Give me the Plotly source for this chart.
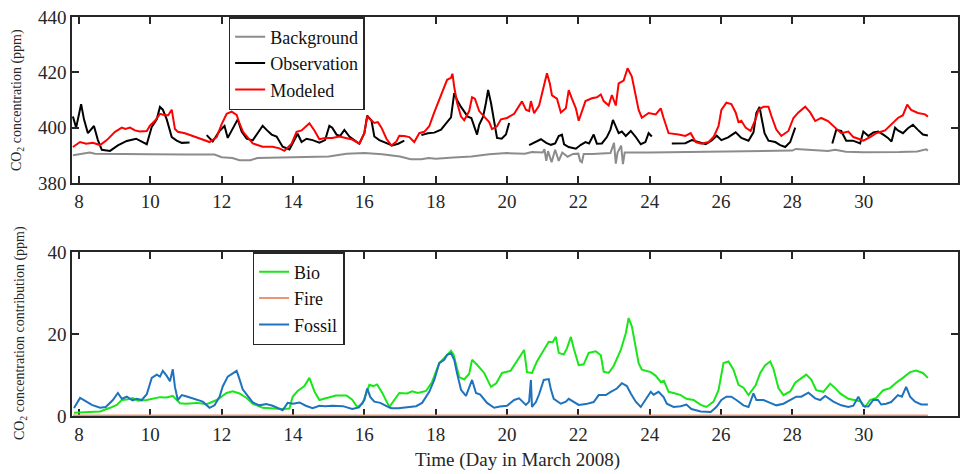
import plotly.graph_objects as go

# ---------------- data (day in March 2008, ppm) ----------------
bg_t = [7.83, 8.0, 8.3, 8.45, 9.0, 10.0, 11.0, 11.8, 12.0, 12.3, 12.5, 12.8, 13.0, 14.0, 15.0, 15.5,
        16.0, 16.5, 17.0, 17.3, 17.6, 17.8, 18.0, 18.5, 19.0, 19.5, 20.0, 20.5, 20.7, 21.0, 21.05,
        21.1, 21.15, 21.25, 21.35, 21.45, 21.55, 21.7, 21.85, 22.0, 22.05, 22.1, 22.15, 22.4, 22.9,
        23.0, 23.05, 23.1, 23.2, 23.25, 23.3, 24.0, 25.0, 26.0, 27.0, 28.0, 28.1, 28.5, 29.0, 29.2,
        29.5, 30.0, 30.5, 31.0, 31.5, 31.75, 31.8]
bg_v = [390.0, 390.3, 391.0, 390.6, 390.6, 390.4, 390.3, 390.3, 389.3, 389.0, 388.2, 388.2, 389.0,
        389.4, 389.6, 390.6, 390.8, 390.4, 389.6, 388.6, 388.6, 389.0, 388.8, 389.2, 389.6, 390.4,
        390.8, 390.6, 391.2, 391.0, 392.2, 388.0, 391.5, 387.5, 392.0, 388.0, 391.0, 389.5, 390.5,
        390.6, 388.0, 387.5, 390.5, 390.5, 390.8, 394.5, 387.0, 391.0, 393.5, 386.8, 391.0, 391.0,
        391.2, 391.4, 391.6, 391.7, 392.3, 392.0, 391.6, 392.0, 391.3, 391.1, 391.1, 391.2, 391.4,
        392.2, 391.7]

obs_t = [7.83, 7.92, 8.06, 8.14, 8.25, 8.42, 8.53, 8.64, 8.87, 9.09, 9.34, 9.6, 9.9, 10.04, 10.18,
         10.27, 10.35, 10.46, 10.6, 10.74, 10.88, 11.1, None,
         11.58, 11.75, 11.94, 12.08, 12.17, 12.31, 12.45, 12.56, 12.7, 12.87, 13.06, 13.15, 13.26,
         13.4, 13.54, 13.71, 13.9, 14.04, 14.13, 14.24, 14.38, 14.55, 14.74, 14.9, 15.02, 15.1,
         15.22, 15.32, 15.44, 15.58, 15.72, 15.86, 16.0, 16.08, 16.2, 16.28, 16.42, 16.62, 16.78,
         16.95, 17.12, None,
         17.6, 17.78, 17.96, 18.15, 18.32, 18.43, 18.52, 18.6, 18.71, 18.8, 18.9, 19.0, 19.08, 19.16,
         19.22, 19.33, 19.41, 19.47, 19.55, 19.64, 19.72, 19.85, 19.97, 20.06, None,
         20.62, 20.81, 20.95, 21.1, 21.23, 21.35, 21.45, 21.54, 21.6, 21.73, 21.93, 22.07, 22.2,
         22.3, 22.43, 22.52, 22.66, 22.8, 22.9, 22.97, 23.05, 23.13, 23.22, 23.33, 23.47, 23.6,
         23.75, 23.88, 23.97, 24.06, None,
         24.62, 24.8, 25.0, 25.18, 25.31, 25.57, 25.73, 25.88, 26.01, 26.2, 26.41, 26.57, 26.77,
         26.91, 26.99, 27.08, 27.14, 27.22, 27.33, 27.52, 27.66, 27.8, 27.94, 28.03, 28.08, None,
         29.12, 29.23, 29.37, 29.51, 29.7, 29.9, 29.99, 30.13, 30.27, 30.41, 30.55, 30.68, 30.78,
         30.88, 30.96, 31.1, 31.24, 31.38, 31.52, 31.66, 31.8]
obs_v = [404.0, 400.0, 408.5, 403.0, 398.0, 400.6, 395.5, 392.0, 391.6, 393.6, 395.2, 396.0, 394.0,
         400.3, 403.0, 407.5, 406.5, 403.0, 396.6, 395.3, 394.5, 394.6, None,
         397.3, 395.0, 398.8, 400.6, 396.3, 399.8, 403.0, 398.6, 396.0, 395.4, 398.8, 400.7, 399.2,
         397.5, 396.8, 393.1, 392.1, 395.3, 397.8, 394.8, 396.0, 395.5, 394.6, 395.5, 400.7, 400.0,
         397.5, 397.0, 399.2, 396.8, 395.5, 394.2, 398.0, 404.3, 402.6, 396.8, 395.5, 394.6, 393.6,
         394.2, 395.3, None,
         397.3, 398.0, 398.2, 399.3, 402.0, 403.7, 412.5, 410.0, 407.5, 405.7, 404.0, 403.5, 400.7,
         397.5, 401.0, 404.0, 409.0, 413.6, 409.0, 402.0, 396.3, 396.0, 397.5, 401.7, None,
         393.7, 394.8, 395.8, 394.5, 393.8, 394.3, 397.0, 397.5, 394.0, 393.0, 392.4, 393.8, 394.8,
         394.3, 397.5, 394.2, 394.3, 396.6, 399.3, 402.8, 400.5, 398.0, 398.6, 397.0, 398.8, 396.8,
         394.0, 394.8, 398.0, 396.8, None,
         394.3, 394.3, 394.4, 395.5, 395.0, 394.0, 395.3, 397.1, 395.5, 396.5, 398.3, 396.3, 395.3,
         398.3, 405.3, 407.5, 403.3, 398.0, 395.3, 394.8, 393.7, 393.0, 394.8, 398.3, 400.0, None,
         394.3, 399.2, 398.8, 395.3, 395.3, 394.3, 398.6, 397.0, 398.3, 398.6, 397.5, 396.3, 395.0,
         400.0, 399.0, 398.0, 399.8, 401.0, 399.2, 397.5, 397.2]

mod_t = [7.83, 8.03, 8.2, 8.39, 8.59, 8.78, 9.01, 9.2, 9.3, 9.43, 9.57, 9.7, 9.9, 9.99, 10.13, 10.27,
         10.41, 10.5, 10.6, 10.69, 10.77, 10.97, 11.19, 11.47, 11.66, 11.86, 12.0, 12.14, 12.28,
         12.42, 12.5, 12.6, 12.73, 12.87, 13.15, 13.43, 13.62, 13.76, 13.96, 14.1, 14.24, 14.38,
         14.46, 14.6, 14.74, 14.9, 15.1, 15.3, 15.5, 15.66, 15.86, 16.0, 16.08, 16.18, 16.28, 16.38,
         16.48, 16.62, 16.76, 16.9, 16.98, 17.12, 17.26, 17.4, 17.54, 17.68, 17.82, 17.96, 18.1,
         18.24, 18.32, 18.43, 18.47, 18.52, 18.6, 18.71, 18.8, 18.94, 19.02, 19.1, 19.22, 19.36,
         19.5, 19.58, 19.72, 19.83, 20.0, 20.2, 20.42, 20.53, 20.62, 20.67, 20.76, 20.9, 21.03,
         21.12, 21.2, 21.26, 21.4, 21.51, 21.65, 21.73, 21.82, 21.93, 22.01, 22.1, 22.2, 22.38,
         22.52, 22.63, 22.71, 22.85, 22.94, 23.05, 23.13, 23.27, 23.38, 23.5, 23.6, 23.69, 23.78,
         23.97, 24.17, 24.31, 24.39, 24.53, 24.81, 25.0, 25.15, 25.29, 25.45, 25.65, 25.79, 25.93,
         26.01, 26.15, 26.29, 26.41, 26.49, 26.57, 26.69, 26.83, 26.97, 27.05, 27.19, 27.33, 27.41,
         27.55, 27.69, 27.89, 28.03, 28.17, 28.36, 28.5, 28.64, 28.81, 29.0, 29.2, 29.37, 29.57,
         29.71, 29.85, 29.99, 30.18, 30.35, 30.6, 30.77, 30.96, 31.1, 31.22, 31.33, 31.52, 31.72,
         31.8]
mod_v = [393.0, 394.8, 394.2, 394.5, 393.7, 395.5, 398.5, 400.0, 399.5, 400.0, 399.0, 398.6, 398.8,
         400.7, 402.5, 405.0, 404.5, 404.5, 406.5, 399.5, 398.5, 398.0, 397.0, 395.8, 394.8, 396.6,
         401.3, 405.0, 405.8, 404.6, 401.5, 398.5, 396.6, 394.3, 393.1, 393.1, 392.5, 391.6, 394.2,
         398.5, 399.0, 400.7, 401.6, 399.0, 395.8, 396.3, 396.3, 396.8, 396.3, 395.7, 394.2, 398.0,
         404.0, 403.0, 401.7, 402.0, 400.0, 396.0, 393.5, 395.0, 397.1, 397.0, 396.6, 394.8, 398.0,
         398.5, 400.5, 405.5, 410.2, 414.3, 417.3, 418.0, 419.5, 414.7, 409.0, 404.0, 402.7, 406.0,
         411.0, 410.5, 406.0, 404.0, 402.0, 399.5, 400.5, 403.0, 403.5, 405.0, 409.5, 406.5, 406.0,
         409.6, 405.2, 408.0, 414.3, 419.7, 416.0, 411.7, 410.5, 405.5, 407.0, 413.6, 410.5, 407.0,
         402.5, 406.0, 409.6, 410.6, 411.0, 412.0, 409.6, 408.0, 411.8, 408.0, 416.0, 417.0, 421.5,
         418.5, 412.6, 406.4, 403.6, 405.3, 404.8, 407.0, 403.5, 398.0, 397.5, 397.0, 398.0, 394.8,
         394.2, 394.8, 396.6, 400.5, 406.4, 409.0, 408.5, 405.5, 402.0, 402.5, 400.0, 398.8, 403.1,
         406.4, 407.6, 407.6, 404.3, 399.3, 397.0, 398.8, 403.5, 405.5, 407.6, 405.5, 402.4, 403.5,
         402.4, 400.0, 398.0, 398.6, 396.6, 396.0, 395.3, 396.6, 398.0, 399.0, 401.0, 403.5, 404.5,
         408.3, 406.4, 405.3, 404.8, 404.0]

bio_t = [7.86, 8.2, 8.59, 8.87, 9.06, 9.2, 9.34, 9.51, 9.65, 9.9, 10.1, 10.27, 10.45, 10.63, 10.83,
         11.0, 11.3, 11.58, 11.86, 12.14, 12.31, 12.5, 12.7, 12.87, 13.15, 13.43, 13.7, 13.9, 13.99,
         14.13, 14.32, 14.46, 14.6, 14.74, 15.02, 15.2, 15.5, 15.66, 15.8, 15.95, 16.14, 16.25,
         16.36, 16.5, 16.7, 16.84, 16.98, 17.2, 17.34, 17.5, 17.73, 17.9, 18.1, 18.29, 18.43, 18.5,
         18.66, 18.8, 18.94, 19.02, 19.16, 19.36, 19.55, 19.7, 19.86, 20.1, 20.34, 20.48, 20.56,
         20.7, 20.84, 21.03, 21.17, 21.28, 21.37, 21.45, 21.59, 21.68, 21.79, 21.87, 22.01, 22.15,
         22.29, 22.49, 22.63, 22.71, 22.85, 22.99, 23.19, 23.33, 23.41, 23.5, 23.61, 23.69, 23.78,
         23.9, 24.03, 24.17, 24.31, 24.4, 24.53, 24.67, 24.87, 25.03, 25.23, 25.43, 25.59, 25.79,
         25.93, 26.07, 26.21, 26.35, 26.49, 26.63, 26.77, 26.97, 27.1, 27.24, 27.38, 27.47, 27.61,
         27.75, 27.94, 28.08, 28.25, 28.39, 28.53, 28.67, 28.87, 29.06, 29.2, 29.34, 29.57, 29.76,
         29.9, 30.04, 30.18, 30.35, 30.55, 30.74, 30.91, 31.1, 31.3, 31.47, 31.66, 31.8]
bio_v = [0.8, 0.9, 1.1, 2.0, 2.7, 3.9, 4.0, 4.4, 3.7, 3.9, 4.2, 4.6, 4.5, 4.9, 3.1, 3.0, 3.2, 2.9,
         3.9, 5.6, 6.0, 5.5, 4.4, 3.0, 2.0, 1.8, 1.7, 1.8, 4.7, 6.1, 7.3, 9.3, 6.0, 3.9, 4.6, 5.0,
         5.0, 4.0, 2.2, 3.0, 7.6, 7.3, 7.7, 5.7, 2.2, 3.9, 5.6, 5.5, 6.0, 5.6, 6.1, 8.3, 12.9, 14.6,
         15.9, 15.0, 9.5, 8.9, 10.3, 13.7, 12.5, 10.5, 7.1, 8.0, 10.5, 11.0, 14.1, 16.1, 10.7, 10.5,
         13.3, 16.1, 18.1, 18.0, 19.3, 15.4, 15.0, 16.5, 19.3, 16.5, 12.4, 12.6, 15.4, 15.8, 14.8,
         10.8, 10.5, 12.2, 16.1, 20.2, 23.9, 21.9, 16.1, 12.9, 11.3, 11.0, 10.7, 9.8, 8.3, 8.6, 5.9,
         5.6, 5.1, 4.2, 3.9, 2.7, 2.2, 3.5, 6.3, 12.9, 13.3, 11.3, 7.6, 6.9, 5.1, 7.5, 10.5, 12.4,
         13.3, 11.5, 6.8, 5.1, 6.0, 8.1, 9.3, 10.1, 8.9, 6.3, 5.9, 7.9, 6.8, 5.5, 4.2, 3.9, 3.6, 2.2,
         3.9, 4.4, 6.3, 6.8, 8.1, 9.3, 10.7, 11.1, 10.5, 9.3]

fire_t = [7.83, 31.8]
fire_v = [0.15, 0.15]

fos_t = [7.86, 8.03, 8.15, 8.36, 8.59, 8.75, 8.95, 9.09, 9.2, 9.34, 9.5, 9.62, 9.76, 9.9, 10.04,
         10.18, 10.27, 10.35, 10.45, 10.55, 10.63, 10.69, 10.77, 10.88, 11.0, 11.19, 11.47, 11.66,
         11.8, 11.94, 12.03, 12.17, 12.31, 12.42, 12.5, 12.59, 12.73, 12.87, 13.06, 13.25, 13.43,
         13.62, 13.71, 13.85, 14.0, 14.18, 14.36, 14.55, 14.74, 14.9, 15.1, 15.4, 15.66, 15.85,
         16.0, 16.08, 16.17, 16.28, 16.45, 16.62, 16.76, 16.95, 17.17, 17.45, 17.62, 17.82, 17.96,
         18.1, 18.24, 18.32, 18.43, 18.52, 18.6, 18.71, 18.85, 18.94, 19.02, 19.13, 19.25, 19.44,
         19.64, 19.8, 20.0, 20.2, 20.34, 20.53, 20.62, 20.67, 20.7, 20.81, 20.9, 21.03, 21.17,
         21.23, 21.31, 21.51, 21.65, 21.73, 21.87, 22.01, 22.21, 22.43, 22.57, 22.77, 22.91, 23.08,
         23.22, 23.36, 23.47, 23.61, 23.75, 23.89, 24.03, 24.11, 24.25, 24.39, 24.48, 24.67, 24.87,
         25.03, 25.17, 25.43, 25.71, 25.87, 26.01, 26.15, 26.29, 26.43, 26.63, 26.77, 26.91, 26.99,
         27.19, 27.38, 27.55, 27.75, 27.94, 28.11, 28.25, 28.45, 28.64, 28.78, 28.92, 29.15, 29.37,
         29.57, 29.71, 29.85, 29.99, 30.13, 30.27, 30.4, 30.49, 30.63, 30.77, 30.96, 31.07, 31.19,
         31.3, 31.44, 31.61, 31.8]
fos_v = [1.95, 4.4, 3.8, 2.7, 2.0, 2.2, 3.9, 5.6, 4.2, 4.7, 3.8, 4.2, 3.9, 5.3, 9.3, 10.1, 9.6,
         11.0, 9.9, 8.5, 11.4, 7.1, 3.9, 5.1, 4.8, 4.2, 3.5, 2.0, 2.6, 4.7, 7.2, 9.6, 10.5, 11.0,
         9.0, 6.5, 4.9, 3.3, 2.6, 2.9, 2.5, 1.8, 1.4, 3.2, 3.0, 3.3, 2.5, 1.9, 2.5, 2.4, 2.5, 2.4,
         1.7, 2.1, 3.9, 6.7, 4.6, 3.5, 3.2, 2.4, 1.9, 1.9, 2.2, 2.4, 3.2, 5.9, 8.8, 12.9, 13.7, 14.9,
         15.3, 13.7, 10.4, 6.4, 4.9, 6.8, 8.8, 5.6, 5.2, 3.2, 2.0, 2.3, 2.5, 3.9, 4.3, 2.7, 3.5, 8.8,
         2.2, 3.4, 5.3, 8.8, 9.0, 6.5, 4.2, 3.0, 3.5, 4.2, 3.5, 2.7, 2.9, 3.4, 5.1, 5.1, 5.9, 6.7,
         8.0, 7.3, 5.5, 3.5, 2.2, 3.9, 5.9, 5.2, 5.9, 4.6, 3.0, 2.2, 2.4, 2.8, 1.7, 1.1, 1.0, 2.2,
         3.9, 4.7, 4.7, 3.9, 2.6, 2.2, 5.5, 3.9, 3.9, 3.2, 2.6, 3.0, 3.9, 4.7, 4.7, 5.7, 4.3, 3.9,
         4.9, 3.5, 2.6, 2.2, 2.5, 4.7, 2.4, 2.3, 3.9, 3.9, 2.8, 3.0, 3.4, 5.1, 4.7, 7.1, 4.7, 3.5,
         2.8, 2.8]

x_ticks = [8, 10, 12, 14, 16, 18, 20, 22, 24, 26, 28, 30]
y1_ticks = [380, 400, 420, 440]
y2_ticks = [0, 20, 40]

# ---------------- figure ----------------
FONT = "'Liberation Serif', 'DejaVu Serif', serif"
AX = "#262626"

fig = go.Figure()
fig.add_trace(go.Scatter(x=bg_t, y=bg_v, mode="lines", name="Background",
                         line=dict(color="#8c8c8c", width=2), xaxis="x", yaxis="y", legend="legend"))
fig.add_trace(go.Scatter(x=obs_t, y=obs_v, mode="lines", name="Observation", connectgaps=False,
                         line=dict(color="black", width=2), xaxis="x", yaxis="y", legend="legend"))
fig.add_trace(go.Scatter(x=mod_t, y=mod_v, mode="lines", name="Modeled",
                         line=dict(color="#ff0000", width=2), xaxis="x", yaxis="y", legend="legend"))
fig.add_trace(go.Scatter(x=bio_t, y=bio_v, mode="lines", name="Bio",
                         line=dict(color="#19e619", width=2), xaxis="x2", yaxis="y2", legend="legend2"))
fig.add_trace(go.Scatter(x=fire_t, y=fire_v, mode="lines", name="Fire",
                         line=dict(color="#e8957a", width=2), xaxis="x2", yaxis="y2", legend="legend2"))
fig.add_trace(go.Scatter(x=fos_t, y=fos_v, mode="lines", name="Fossil",
                         line=dict(color="#1f72bd", width=2), xaxis="x2", yaxis="y2", legend="legend2"))

axis_common = dict(showline=True, linecolor=AX, linewidth=1.5, mirror="ticks", ticks="inside",
                   ticklen=7, tickwidth=1.5, tickcolor=AX, showgrid=False, zeroline=False,
                   tickfont=dict(family=FONT, size=19, color=AX))
xr = [7.804, 32.644]
fig.update_layout(
    width=960, height=474,
    margin=dict(l=72, r=0, t=17, b=58),
    paper_bgcolor="white", plot_bgcolor="white",
    showlegend=True,
    xaxis=dict(domain=[0, 1], range=xr, tickvals=x_ticks, anchor="y", **axis_common),
    xaxis2=dict(domain=[0, 1], range=xr, tickvals=x_ticks, anchor="y2", layer="below traces",
                **axis_common),
    yaxis=dict(domain=[0.584, 1], range=[380, 440], tickvals=y1_ticks, anchor="x", **axis_common),
    yaxis2=dict(domain=[0, 0.411], range=[0, 40], tickvals=y2_ticks, anchor="x2", **axis_common),
    legend=dict(x=0.1768, y=1.0, xanchor="left", yanchor="top", bgcolor="white",
                bordercolor=AX, borderwidth=1.5, tracegroupgap=0,
                font=dict(family=FONT, size=18, color="#111")),
    legend2=dict(x=0.2038, y=0.411, xanchor="left", yanchor="top", bgcolor="white",
                 bordercolor=AX, borderwidth=1.5, tracegroupgap=0,
                 font=dict(family=FONT, size=18, color="#111")),
    annotations=[
        dict(text="Time (Day in March 2008)", x=0.503, y=-0.11, xref="paper", yref="paper",
             xanchor="center", yanchor="middle", showarrow=False,
             font=dict(family=FONT, size=19, color=AX)),
        dict(text="CO<sub>2</sub> concentration (ppm)", x=-0.0608, y=0.792, xref="paper",
             yref="paper", xanchor="center", yanchor="middle", textangle=-90, showarrow=False,
             font=dict(family=FONT, size=14, color=AX)),
        dict(text="CO<sub>2</sub> concentration contribution (ppm)", x=-0.0586, y=0.208,
             xref="paper", yref="paper", xanchor="center", yanchor="middle", textangle=-90,
             showarrow=False, font=dict(family=FONT, size=14, color=AX)),
    ],
)

fig.write_html("out.html", config={"displayModeBar": False},
               post_script="document.body.style.margin='0px';document.body.style.overflow='hidden';")
